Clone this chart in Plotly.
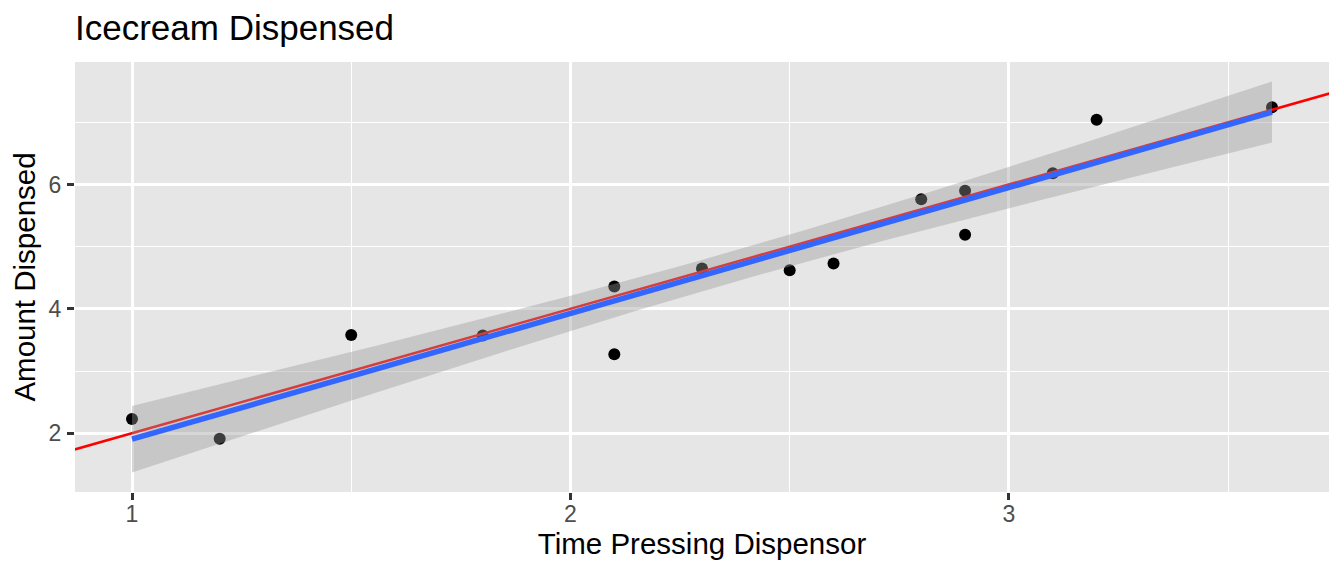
import numpy as np
import plotly.graph_objects as go

# ---- data ----
time_pressing = [1.0, 1.2, 1.5, 1.8, 2.1, 2.1, 2.3, 2.5, 2.6, 2.8, 2.9, 2.9, 3.1, 3.2, 3.6]
amount_dispensed = [2.23, 1.91, 3.58, 3.57, 4.36, 3.27, 4.65, 4.62, 4.73, 5.76, 5.90, 5.19, 6.18, 7.04, 7.24]
ref_intercept = 0.0
ref_slope = 2.0
x_ticks = [1, 2, 3]
y_ticks = [2, 4, 6]

# ---- linear model (geom_smooth method = "lm") ----
x = np.array(time_pressing)
y = np.array(amount_dispensed)
n = len(x)
b1, b0 = np.polyfit(x, y, 1)
resid = y - (b0 + b1 * x)
s = np.sqrt(np.sum(resid ** 2) / (n - 2))
sxx = np.sum((x - x.mean()) ** 2)
t_crit = 2.160369  # qt(0.975, df = 13)
xs = np.linspace(x.min(), x.max(), 80)
fit = b0 + b1 * xs
se = s * np.sqrt(1.0 / n + (xs - x.mean()) ** 2 / sxx)
lo = fit - t_crit * se
hi = fit + t_crit * se

# ggplot-like 5% expansion
xr = [x.min() - 0.05 * (x.max() - x.min()), x.max() + 0.05 * (x.max() - x.min())]
ymin = min(y.min(), lo.min())
ymax = max(y.max(), hi.max())
yr = [ymin - 0.05 * (ymax - ymin), ymax + 0.05 * (ymax - ymin)]

fig = go.Figure()
fig.add_trace(go.Scatter(x=time_pressing, y=amount_dispensed, mode="markers",
                         marker=dict(color="black", size=12), showlegend=False))
ref_x = [xr[0] - 0.5, xr[1] + 0.5]
fig.add_trace(go.Scatter(x=ref_x, y=[ref_intercept + ref_slope * v for v in ref_x], mode="lines",
                         line=dict(color="#FF0000", width=2.5), showlegend=False))
fig.add_trace(go.Scatter(x=np.concatenate([xs, xs[::-1]]), y=np.concatenate([hi, lo[::-1]]),
                         fill="toself", fillcolor="rgba(153,153,153,0.4)", mode="lines",
                         line=dict(width=0), showlegend=False, hoverinfo="skip"))
fig.add_trace(go.Scatter(x=xs, y=fit, mode="lines",
                         line=dict(color="#3366FF", width=5.5), showlegend=False))

FONT = "Liberation Sans, Arial, sans-serif"
axis_common = dict(
    showgrid=True, gridcolor="white", gridwidth=2.5,
    zeroline=False, showline=False, automargin=False,
    ticks="outside", ticklen=7, tickwidth=2.5, tickcolor="#333333",
    tickfont=dict(family=FONT, size=23, color="#4d4d4d"),
)
fig.update_xaxes(range=xr, tickvals=x_ticks, ticktext=[str(v) for v in x_ticks],
                 ticklabelstandoff=-6,
                 minor=dict(tickvals=[1.5, 2.5, 3.5], showgrid=True, gridcolor="white", gridwidth=1.3, ticks=""),
                 title=dict(text="Time Pressing Dispensor", standoff=5,
                            font=dict(family=FONT, size=29.5, color="black")),
                 **axis_common)
fig.update_yaxes(range=yr, tickvals=y_ticks, ticktext=[str(v) for v in y_ticks],
                 ticklabelstandoff=1,
                 minor=dict(tickvals=[1, 3, 5, 7], showgrid=True, gridcolor="white", gridwidth=1.3, ticks=""),
                 title=dict(text="Amount Dispensed", standoff=4,
                            font=dict(family=FONT, size=29.5, color="black")),
                 **axis_common)

# page body has an 8px margin, so shift the figure by -8px (right/bottom overflow is off-screen)
fig.update_layout(
    width=1344, height=576,
    margin=dict(l=67, r=23, t=54, b=92, pad=0, autoexpand=False),
    paper_bgcolor="white", plot_bgcolor="#e6e6e6",
    title=dict(text="Icecream Dispensed", x=0, xref="paper", xanchor="left",
               y=1 - 20 / 576, yref="container", yanchor="middle",
               font=dict(family=FONT, size=35, color="black")),
    showlegend=False,
)

fig.write_html("out.html")
